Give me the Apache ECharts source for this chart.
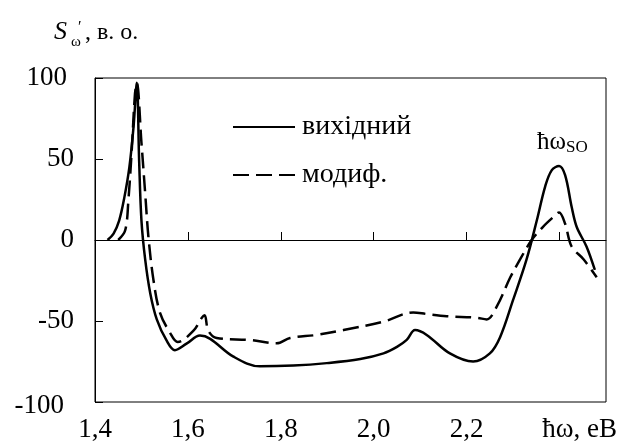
<!DOCTYPE html>
<html>
<head>
<meta charset="utf-8">
<script src="https://cdn.jsdelivr.net/npm/echarts@6/dist/echarts.min.js"></script>
<style>
  html, body { margin: 0; padding: 0; background: #fff; }
  #chart { width: 624px; height: 448px; }
</style>
</head>
<body>
<div id="chart"></div>
<script>
// photon energy (eV) and signal for both curves
const xSolid = [1.427, 1.440, 1.452, 1.463, 1.474, 1.483, 1.490, 1.495, 1.500, 1.508, 1.519, 1.533, 1.554,
  1.572, 1.597, 1.626, 1.648, 1.698, 1.755, 1.827, 1.899, 1.971, 2.021, 2.050, 2.071, 2.089, 2.114,
  2.164, 2.214, 2.250, 2.272, 2.300, 2.329, 2.351, 2.369, 2.383, 2.399, 2.412, 2.426, 2.437, 2.458, 2.476]
const ySolid = [0, 4, 12, 26, 45, 70, 97, 49, 12, -12, -33, -49, -62,
  -68, -64, -59, -61, -72, -78, -77.5, -76, -73.5, -70, -66, -61.7, -55.6, -58.6,
  -70, -75, -70, -60, -37, -12, 12, 33, 43, 45.7, 40, 20.5, 8, -4, -18.5]

const xDashed = [1.450, 1.465, 1.472, 1.479, 1.486, 1.490, 1.500, 1.508, 1.515, 1.526, 1.540, 1.561,
  1.578, 1.612, 1.630, 1.636, 1.644, 1.662, 1.733, 1.791, 1.820, 1.877, 1.935, 2.021, 2.085, 2.114,
  2.157, 2.222, 2.243, 2.265, 2.294, 2.315, 2.340, 2.364, 2.386, 2.399, 2.412, 2.426, 2.452, 2.480]
const yDashed = [0, 6, 25, 55, 90, 97, 60, 29, 2, -25, -45, -57,
  -63, -56, -48, -46.5, -56, -60.5, -61.7, -63.8, -60.5, -58.6, -55.6, -50.4, -44.7, -45.7,
  -47, -48, -49, -41, -23, -12, 0, 8, 14, 17, 10, -4, -12, -23]

const seriesNames = ['вихідний', 'модиф.']
const xTicks = [1.4, 1.6, 1.8, 2.0, 2.2, 2.4]
const yTicks = [-100, -50, 0, 50, 100]

const serif = 'Liberation Serif'
const zip = (xs, ys) => xs.map((x, i) => [x, ys[i]])

const chart = echarts.init(document.getElementById('chart'))

chart.setOption({
  animation: false,
  backgroundColor: '#fff',
  textStyle: { fontFamily: serif, color: '#000' },
  grid: {
    left: 95, right: 18, top: 78, bottom: 46,
    show: true, borderColor: '#000', borderWidth: 1,
  },
  legend: {
    orient: 'vertical',
    left: 227,
    top: 108,
    padding: 5,
    itemWidth: 62,
    itemHeight: 14,
    itemGap: 20,
    data: seriesNames,
    itemStyle: { color: 'transparent', borderColor: 'transparent', borderWidth: 0 },
    textStyle: { fontFamily: serif, fontSize: 28, color: '#000', padding: [0, 0, 0, 2] },
  },
  xAxis: {
    type: 'value',
    min: 1.4,
    max: 2.5,
    interval: 0.2,
    splitLine: { show: false },
    axisLine: { lineStyle: { color: '#000', width: 1 } },
    axisTick: { inside: true, length: 8, customValues: xTicks, lineStyle: { color: '#000' } },
    axisLabel: {
      fontFamily: serif,
      fontSize: 27,
      color: '#000',
      margin: 14,
      customValues: xTicks,
      formatter: v => Math.abs(v - 2.4) < 1e-6 ? '{u|ħω, eB}' : v.toFixed(1).replace('.', ','),
      rich: { u: { fontFamily: serif, fontSize: 27, color: '#000', padding: [0, 0, 0, 40] } },
    },
  },
  yAxis: {
    type: 'value',
    min: -100,
    max: 100,
    interval: 50,
    splitLine: { show: false },
    axisLine: { lineStyle: { color: '#000', width: 1 } },
    axisTick: { inside: true, length: 8, customValues: yTicks, lineStyle: { color: '#000' } },
    axisLabel: {
      fontFamily: serif,
      fontSize: 27,
      color: '#000',
      margin: 21,
      customValues: yTicks,
      formatter: v => v === 100 ? '{a|100}' : v === -100 ? '{b|-100}' : String(v),
      rich: {
        a: { fontFamily: serif, fontSize: 27, color: '#000', padding: [0, 7, 0, 0] },
        b: { fontFamily: serif, fontSize: 27, color: '#000', padding: [8, 10, 0, 0] },
      },
    },
  },
  graphic: [
    { type: 'text', left: 54, top: 19, style: { text: 'S', font: 'italic 26px "Liberation Serif"', fill: '#000' } },
    { type: 'text', left: 78, top: 20, style: { text: '′', font: '16px "Liberation Serif"', fill: '#000' } },
    { type: 'text', left: 71, top: 35, style: { text: 'ω', font: '15px "Liberation Serif"', fill: '#000' } },
    { type: 'text', left: 85, top: 21, style: { text: ', в. о.', font: '24px "Liberation Serif"', fill: '#000' } },
    {
      type: 'text', left: 537, top: 130,
      style: {
        text: '{a|ħω}{b|SO}',
        rich: {
          a: { font: '25px "Liberation Serif"', fill: '#000' },
          b: { font: '17px "Liberation Serif"', fill: '#000', padding: [10, 0, 0, 0] },
        },
      },
    },
  ],
  series: [
    {
      name: seriesNames[0],
      type: 'line',
      data: zip(xSolid, ySolid),
      smooth: 0.35,
      showSymbol: false,
      symbol: 'none',
      lineStyle: { color: '#000', width: 2.5, type: 'solid' },
      itemStyle: { color: '#000' },
      markLine: {
        silent: true,
        symbol: ['none', 'none'],
        label: { show: false },
        lineStyle: { color: '#000', width: 1, type: 'solid' },
        data: [{ yAxis: 0 }],
      },
    },
    {
      name: seriesNames[1],
      type: 'line',
      data: zip(xDashed, yDashed),
      smooth: 0.35,
      showSymbol: false,
      symbol: 'none',
      lineStyle: { color: '#000', width: 2.5, type: [16, 7] },
      itemStyle: { color: '#000' },
    },
  ],
})
</script>
</body>
</html>
